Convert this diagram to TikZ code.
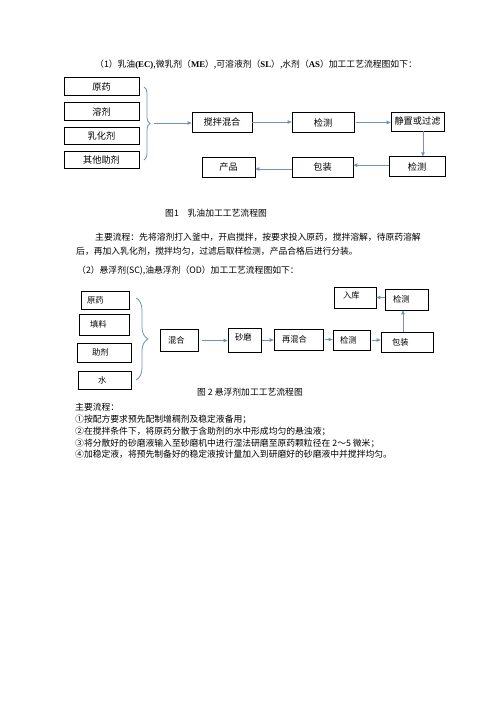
\documentclass[tikz,border=0pt]{standalone}
\usepackage{fontspec}
\newfontfamily\cjk{Noto Sans CJK SC}
\newfontfamily\lat{Liberation Serif}
\usetikzlibrary{arrows.meta,decorations.pathreplacing,calc}
\definecolor{arrblue}{RGB}{112,146,190}
\begin{document}
\begin{tikzpicture}[x=1pt,y=-1pt,
  box/.style={draw=black, line width=0.7pt, inner sep=0pt, font=\cjk\fontsize{9.2}{9.2}\selectfont},
  lbox/.style={draw=black, line width=0.7pt, inner ysep=0pt, align=left, font=\cjk\fontsize{8.3}{8.3}\selectfont},
  arr/.style={draw=arrblue, line width=0.8pt, -{Triangle[length=4pt,width=3.5pt]}},
  brc/.style={draw=arrblue, line width=0.8pt, decorate, decoration={brace, amplitude=#1}},
  txt/.style={anchor=west, inner sep=0pt, font=\cjk\fontsize{8.8}{8.8}\selectfont}]
\useasboundingbox[fill=white] (0,0) rectangle (496,702);

% ---------- texts ----------
\node[txt] (t1) at (95,65) {（1）乳油{\lat\bfseries(EC)},微乳剂（{\lat\bfseries ME}）,可溶液剂（{\lat\bfseries SL}）,水剂（{\lat\bfseries AS}）加工工艺流程图如下：};
\node[txt] (cap1) at (165,212.7) {图1　乳油加工工艺流程图};
\node[txt] (p1) at (95,237) {主要流程：先将溶剂打入釜中，开启搅拌，按要求投入原药，搅拌溶解，待原药溶解};
\node[txt] (p2) at (76,251) {后，再加入乳化剂，搅拌均匀，过滤后取样检测，产品合格后进行分装。};
\node[txt] (t2) at (77,271) {（2）悬浮剂(SC),油悬浮剂（OD）加工工艺流程图如下：};
\node[txt] (cap2) at (197,392) {图 2 悬浮剂加工工艺流程图};
\node[txt] (m1) at (75,407.5) {主要流程：};
\node[txt] (m2) at (75,419.5) {①按配方要求预先配制增稠剂及稳定液备用；};
\node[txt] (m3) at (75,431) {②在搅拌条件下，将原药分散于含助剂的水中形成均匀的悬浊液；};
\node[txt] (m4) at (75,443) {③将分散好的砂磨液输入至砂磨机中进行湿法研磨至原药颗粒径在 2～5 微米；};
\node[txt] (m5) at (75,454.5) {④加稳定液，将预先制备好的稳定液按计量加入到研磨好的砂磨液中并搅拌均匀。};

% ---------- diagram 1 ----------
\node[box, minimum width=75pt, minimum height=17.5pt] (a1) at (101.5,86.5) {原药};
\node[box, minimum width=75pt, minimum height=17.5pt] (a2) at (101.5,111.5) {溶剂};
\node[box, minimum width=75pt, minimum height=17.5pt] (a3) at (101.5,136) {乳化剂};
\node[box, minimum width=75pt, minimum height=17.5pt] (a4) at (101.5,160) {其他助剂};
\node[box, minimum width=60pt, minimum height=20pt] (b1) at (222,122) {搅拌混合};
\node[box, minimum width=62pt, minimum height=20pt] (b2) at (323,122.5) {检测};
\node[box, minimum width=53pt, minimum height=19pt] (b3) at (417.5,121.5) {静置或过滤};
\node[box, minimum width=56pt, minimum height=20pt] (c1) at (417,166.7) {检测};
\node[box, minimum width=61pt, minimum height=20pt] (c2) at (322.5,167) {包装};
\node[box, minimum width=53pt, minimum height=20pt] (c3) at (228.5,167) {产品};

\draw[brc=6pt] (144,87) -- (144,160);
\coordinate (br1) at (154,123);
\draw[arr] (br1) -- (br1 -| b1.west);
\draw[arr] (b1.east) -- (b1.east -| b2.west);
\draw[arr, shorten <=2pt] (b2.east) -- (b2.east -| b3.west);
\draw[arr] ([xshift=5.5pt]b3.south) -- ([xshift=5.5pt]b3.south |- c1.north);
\draw[arr] ([yshift=1.5pt]c1.west) -- ([yshift=1.5pt]c1.west -| c2.east);
\draw[arr] ([yshift=-2pt]c2.west) -- ([yshift=-2pt]c2.west -| c3.east);

% ---------- diagram 2 ----------
\node[lbox, text width=36pt, inner xsep=6pt, minimum height=18pt] (d1) at (105,300) {原药};
\node[lbox, text width=28pt, inner xsep=11pt, minimum height=21pt] (d2) at (104,324.5) {填料};
\node[lbox, text width=24pt, inner xsep=15pt, minimum height=19pt] (d3) at (104,352.5) {助剂};
\node[lbox, text width=13pt, inner xsep=20pt, minimum height=18pt] (d4) at (104.5,380) {水};
\node[lbox, text width=22pt, inner xsep=8pt, minimum height=22.5pt] (e1) at (179,340.5) {混合};
\node[lbox, text width=19pt, inner xsep=7pt, minimum height=24pt, text depth=5pt] (e2) at (244.5,340) {砂磨};
\node[lbox, text width=33pt, inner xsep=8pt, minimum height=21pt] (e3) at (298.5,339.5) {再混合};
\node[lbox, text width=23pt, inner xsep=7pt, minimum height=20pt] (e4) at (351.5,340) {检测};
\node[lbox, text width=30pt, inner xsep=11pt, minimum height=19.5pt] (e5) at (407,342.5) {包装};
\node[lbox, text width=27pt, inner xsep=8pt, minimum height=21pt] (f1) at (406.5,299.5) {检测};
\node[lbox, text width=24pt, inner xsep=9pt, minimum height=21pt, text depth=4pt] (f2) at (355,297.5) {入库};

\draw[brc=12pt] (136,298) -- (136,380);
\draw[arr, shorten <=4pt] (e1.east) -- (e1.east -| e2.west);
\draw[arr, shorten <=1pt] (e2.east) -- (e2.east -| e3.west);
\draw[arr, shorten <=2pt] (e3.east) -- (e3.east -| e4.west);
\draw[arr, shorten <=2pt] (e4.east) -- (e4.east -| e5.west);
\draw[arr] ([xshift=-4pt]e5.north) -- ([xshift=-4pt]e5.north |- f1.south);
\draw[arr] ([yshift=2pt]f1.west) -- ([yshift=2pt]f1.west -| f2.east);
\end{tikzpicture}
\end{document}
